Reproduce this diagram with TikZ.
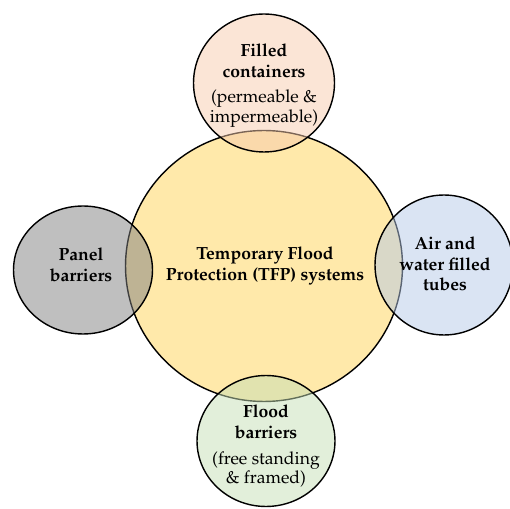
\documentclass[tikz,border=0pt]{standalone}
\usepackage[T1]{fontenc}
\usepackage{palatino}
\definecolor{tfpyellow}{RGB}{255,233,170}
\definecolor{fillpink}{RGB}{247,203,173}
\definecolor{panelgrey}{RGB}{127,127,127}
\definecolor{tubeblue}{RGB}{181,201,231}
\definecolor{floodgreen}{RGB}{197,223,181}
\tikzset{
    ring/.style={draw=black, line width=0.8pt},
    lobe/.style={ring, fill opacity=0.5},
    head/.style={font=\bfseries\fontsize{10}{11.8}\selectfont, align=center, inner sep=0pt},
    note/.style={font=\fontsize{10}{9.8}\selectfont, align=center, inner sep=0pt}
}
\begin{document}
\begin{tikzpicture}[x=0.02cm, y=-0.02cm]
\useasboundingbox (0, 0) rectangle (510, 509);

%% 中心区域
\coordinate (tfp) at (264, 266);
\draw [ring, fill=tfpyellow] (tfp) ellipse [x radius=2.77cm, y radius=2.71cm];

%% 四个外围区域
\coordinate (filled) at (264, 83);
\coordinate (panel) at (83, 270);
\coordinate (tubes) at (444, 265);
\coordinate (flood) at (266, 441);
\foreach \c/\col/\rx/\ry in {filled/fillpink/1.41/1.38, panel/panelgrey/1.39/1.28,
                             tubes/tubeblue/1.38/1.40, flood/floodgreen/1.38/1.31}
{
    \draw [lobe, fill=\col] (\c) ellipse [x radius=\rx cm, y radius=\ry cm];
}

%% 文字
\node [head] (tfptext) at (265, 266) {Temporary Flood\\Protection (TFP) systems};
\node [head] (filledtext) at (264, 60.5) {Filled\\containers};
\node [note] (filledsub) at (264, 108.5) {(permeable \&\\impermeable)};
\node [head] (paneltext) at (81, 265) {Panel\\barriers};
\node [head] (tubestext) at (445, 264) {Air and\\water filled\\tubes};
\node [head] (floodtext) at (266, 422) {Flood\\barriers};
\node [note] (floodsub) at (266, 469.5) {(free standing\\\& framed)};
\end{tikzpicture}
\end{document}
